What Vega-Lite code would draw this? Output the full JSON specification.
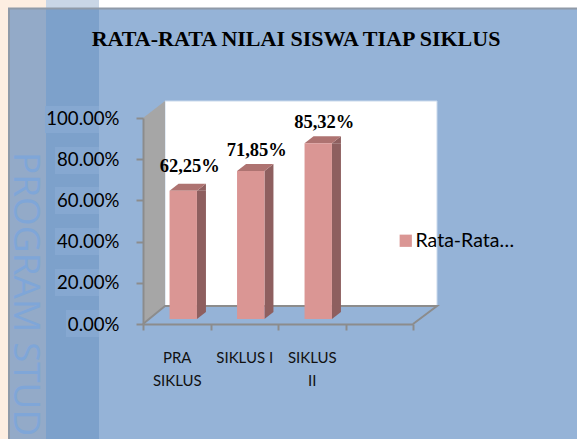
{
"$schema":"https://vega.github.io/schema/vega-lite/v6.json",
"width":577,"height":439,"padding":0,"autosize":{"type":"none"},"background":"#ffffff",
"title":{"text":"RATA-RATA NILAI SISWA TIAP SIKLUS","font":"Liberation Serif","fontWeight":"bold","fontSize":22,"color":"#000000","anchor":"middle","dx":7.5,"dy":61,"offset":0,"baseline":"middle","frame":"group"},
"config":{"view":{"stroke":null}},
"data":{"values":[
{"siklus":"PRA SIKLUS","nilai":0.6225,"label":"62,25%","seri":"Rata-Rata…"},
{"siklus":"SIKLUS I","nilai":0.7185,"label":"71,85%","seri":"Rata-Rata…"},
{"siklus":"SIKLUS II","nilai":0.8532,"label":"85,32%","seri":"Rata-Rata…"}]},
"encoding":{
"x":{"field":"siklus","type":"nominal","sort":null,"scale":{"domain":["PRA SIKLUS","SIKLUS I","SIKLUS II"," "],"range":[143,413],"padding":0},
 "axis":{"title":null,"offset":-115,"zindex":1,"labelAngle":0,"tickBand":"extent","tickSize":6,"tickWidth":2,"tickColor":"#8c8c8c","domainColor":"#8c8c8c","domainWidth":2,"labelFont":"Lato","labelFontSize":15,"labelColor":"#111111","labelPadding":27,"labelLineHeight":23,"labelBaseline":"middle","labelLimit":0,"labelExpr":"!isValid(datum.value) ? '' : datum.value=='SIKLUS I' ? datum.value : split(datum.value,' ')"}},
"y":{"field":"nilai","type":"quantitative","scale":{"domain":[0,1],"range":[324,118],"nice":false,"zero":true},
 "axis":{"title":null,"offset":-143,"zindex":1,"values":[0,0.2,0.4,0.6,0.8,1],"format":".2%","grid":false,"tickSize":7,"tickWidth":2,"tickColor":"#8c8c8c","domainColor":"#8c8c8c","domainWidth":2,"labelFont":"Lato","labelFontSize":18.6,"labelColor":"#000000","labelPadding":17}}
},
"layer":[
{"transform":[{"filter":"datum.siklus=='PRA SIKLUS'"}],"mark":{"type":"point","filled":true,"size":4,"opacity":1,"color":"#95b3d7","xOffset":-176.75,"yOffset":-324,"shape":"M9 9L577 9L577 439L9 439Z"},"encoding":{"y":{"datum":0}}},
{"transform":[{"filter":"datum.siklus=='PRA SIKLUS'"}],"mark":{"type":"point","filled":true,"size":4,"opacity":1,"color":"#fdeee1","xOffset":-176.75,"yOffset":-324,"shape":"M0 0L46 0L46 8L8 8L8 439L0 439Z"},"encoding":{"y":{"datum":0}}},
{"transform":[{"filter":"datum.siklus=='PRA SIKLUS'"}],"mark":{"type":"point","filled":true,"size":4,"opacity":1,"color":"#c9d6e6","xOffset":-176.75,"yOffset":-324,"shape":"M46 0L99 0L99 8L46 8Z"},"encoding":{"y":{"datum":0}}},
{"transform":[{"filter":"datum.siklus=='PRA SIKLUS'"}],"mark":{"type":"point","filled":true,"size":4,"opacity":1,"color":"#93aac8","xOffset":-176.75,"yOffset":-324,"shape":"M10 9L46 9L46 439L10 439Z"},"encoding":{"y":{"datum":0}}},
{"transform":[{"filter":"datum.siklus=='PRA SIKLUS'"}],"mark":{"type":"point","filled":true,"size":4,"opacity":1,"color":"#7da1cb","xOffset":-176.75,"yOffset":-324,"shape":"M46 9L99 9L99 439L46 439Z"},"encoding":{"y":{"datum":0}}},
{"transform":[{"filter":"datum.siklus=='PRA SIKLUS'"}],"mark":{"type":"point","filled":true,"size":4,"opacity":1,"color":"#86a8d1","xOffset":-176.75,"yOffset":-324,"shape":"M45 106L99 106L99 133L45 133ZM55 147L99 147L99 174L55 174ZM55 187L99 187L99 214L55 214ZM55 228L99 228L99 255L55 255ZM55 269L99 269L99 296L55 296ZM66 310L99 310L99 337L66 337Z"},"encoding":{"y":{"datum":0}}},
{"transform":[{"filter":"datum.siklus=='PRA SIKLUS'"}],"mark":{"type":"point","filled":false,"size":4,"opacity":1,"color":"#8f9aa8","strokeWidth":2,"xOffset":-176.75,"yOffset":-324,"shape":"M577 8.5L9 8.5L9 439"},"encoding":{"y":{"datum":0}}},
{"transform":[{"filter":"datum.siklus=='PRA SIKLUS'"}],"mark":{"type":"text","text":"PROGRAM STUDI","font":"Open Sans","fontSize":37,"angle":90,"align":"left","baseline":"middle","color":"#7fa6d8","xOffset":-151.75,"yOffset":-172},"encoding":{"y":{"datum":0}}},
{"transform":[{"filter":"datum.siklus=='PRA SIKLUS'"}],"mark":{"type":"point","filled":true,"size":4,"opacity":1,"color":"#ffffff","stroke":"#c9d9ec","strokeWidth":1,"xOffset":-176.75,"yOffset":-324,"shape":"M165 101L437 101L437 306L165 306Z"},"encoding":{"y":{"datum":0}}},
{"transform":[{"filter":"datum.siklus=='PRA SIKLUS'"}],"mark":{"type":"point","filled":true,"size":4,"opacity":1,"color":"#a6a6a6","xOffset":-176.75,"yOffset":-324,"shape":"M143 118L165 101L165 306L143 324Z"},"encoding":{"y":{"datum":0}}},
{"transform":[{"filter":"datum.siklus=='PRA SIKLUS'"}],"mark":{"type":"point","filled":false,"size":4,"opacity":1,"color":"#8c8c8c","strokeWidth":2,"xOffset":-176.75,"yOffset":-324,"shape":"M143 324L165 306L437 306L413 324"},"encoding":{"y":{"datum":0}}},
{"mark":{"type":"bar","width":9,"xOffset":24.7,"yOffset":-5,"y2Offset":-12,"color":"#8e5f5f"},"encoding":{"y2":{"datum":0}}},
{"mark":{"type":"point","filled":true,"size":4,"opacity":1,"color":"#8e5f5f","yOffset":-5,"shape":"M20.2 0L29.2 -7L29.2 0Z"}},
{"mark":{"type":"point","filled":true,"size":4,"opacity":1,"color":"#8e5f5f","yOffset":-5,"shape":"M20.2 0L20.2 -7L29.2 -7Z"},"encoding":{"y":{"datum":0}}},
{"mark":{"type":"point","filled":true,"size":4,"opacity":1,"color":"#ae7371","yOffset":-5,"shape":"M-7.2 0L20.2 0L29.2 -7L1.8 -7Z"}},
{"mark":{"type":"bar","width":27.4,"xOffset":6.5,"yOffset":-5,"y2Offset":-5},"encoding":{"y2":{"datum":0},
 "color":{"field":"seri","type":"nominal","scale":{"range":["#da9694"]},"legend":{"title":null,"orient":"none","legendX":396,"legendY":231,"symbolType":"square","symbolSize":150,"symbolStrokeWidth":0,"labelFont":"Lato","labelFontSize":19.5,"labelColor":"#000000","labelOffset":0,"labelLimit":0}}}},
{"transform":[{"filter":"datum.siklus!='PRA SIKLUS'"}],"mark":{"type":"text","font":"Liberation Serif","fontWeight":"bold","fontSize":18.5,"color":"#000000","xOffset":12.5,"baseline":"middle","yOffset":-26},"encoding":{"text":{"field":"label"}}},
{"transform":[{"filter":"datum.siklus=='PRA SIKLUS'"}],"mark":{"type":"text","font":"Liberation Serif","fontWeight":"bold","fontSize":18.5,"color":"#000000","xOffset":13,"baseline":"middle","yOffset":-30},"encoding":{"text":{"field":"label"}}}
]
}
